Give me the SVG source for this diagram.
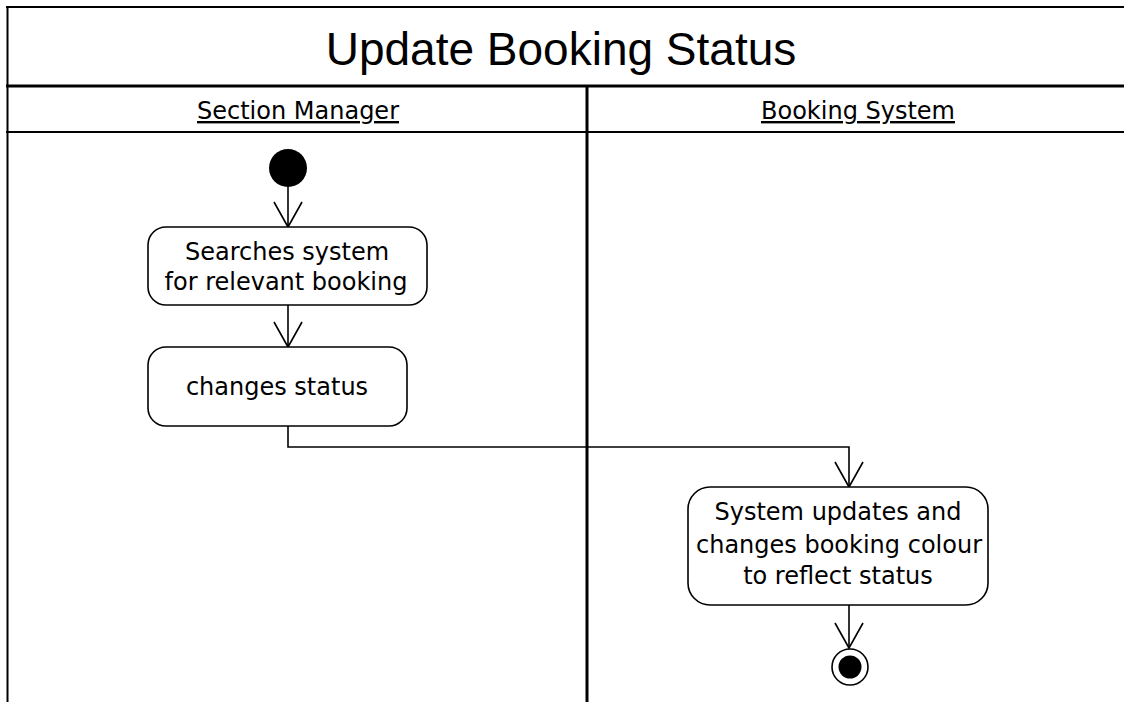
<svg xmlns="http://www.w3.org/2000/svg" width="1124" height="702" viewBox="0 0 1124 702">
  <style>
    .frame { stroke: #000; fill: none; }
    .title { font-family: "Liberation Sans", Arial, sans-serif; font-size: 46px; fill: #000; text-anchor: middle; }
    .lane { font-family: "DejaVu Sans", sans-serif; font-size: 24px; fill: #000; text-anchor: middle; text-decoration: underline; }
    .label { font-family: "DejaVu Sans", sans-serif; font-size: 24px; fill: #000; text-anchor: middle; }
    .action { fill: #fff; stroke: #000; stroke-width: 1.6; }
    .flow { fill: none; stroke: #000; stroke-width: 1.6; marker-end: url(#open); }
  </style>
  <defs>
    <marker id="open" markerUnits="userSpaceOnUse" markerWidth="40" markerHeight="40" viewBox="-30 -20 40 40" refX="0" refY="0" orient="auto">
      <path d="M -25 -14 L 0 0 L -25 14" fill="none" stroke="#000" stroke-width="1.6"/>
    </marker>
  </defs>
  <rect width="1124" height="702" fill="#fff"/>

  <!-- activity frame with swimlanes -->
  <g id="frame">
    <line class="frame" x1="7.5" y1="6" x2="7.5" y2="702" stroke-width="2"/>
    <line class="frame" x1="6" y1="7" x2="1124" y2="7" stroke-width="2"/>
    <line class="frame" x1="6" y1="86" x2="1124" y2="86" stroke-width="3"/>
    <line class="frame" x1="6" y1="132" x2="1124" y2="132" stroke-width="2"/>
    <line class="frame" x1="587" y1="86" x2="587" y2="702" stroke-width="3"/>
    <text class="title" x="561" y="65">Update Booking Status</text>
  </g>
  <g id="lane-section-manager">
    <text class="lane" x="298" y="119">Section Manager</text>
  </g>
  <g id="lane-booking-system">
    <text class="lane" x="858" y="119">Booking System</text>
  </g>

  <!-- control flow -->
  <g id="connectors">
    <path class="flow" d="M 288 187 L 288 227"/>
    <path class="flow" d="M 288 305 L 288 347"/>
    <path class="flow" d="M 288 426 L 288 447 L 849 447 L 849 487"/>
    <path class="flow" d="M 849 605 L 849 648"/>
  </g>

  <g id="start">
    <circle cx="288" cy="168" r="19" fill="#000"/>
  </g>
  <g id="search">
    <rect class="action" x="148" y="227" width="279" height="78" rx="18"/>
    <text class="label" x="287" y="260">Searches system</text>
    <text class="label" x="286" y="290">for relevant booking</text>
  </g>
  <g id="change-status">
    <rect class="action" x="148" y="347" width="259" height="79" rx="18"/>
    <text class="label" x="277" y="395">changes status</text>
  </g>
  <g id="update-colour">
    <rect class="action" x="688" y="487" width="300" height="118" rx="22"/>
    <text class="label" x="838" y="520">System updates and</text>
    <text class="label" x="839" y="553">changes booking colour</text>
    <text class="label" x="838" y="584">to reflect status</text>
  </g>
  <g id="end">
    <circle cx="850" cy="667" r="18" fill="#fff" stroke="#000" stroke-width="1.6"/>
    <circle cx="850" cy="667" r="11.5" fill="#000"/>
  </g>
</svg>
